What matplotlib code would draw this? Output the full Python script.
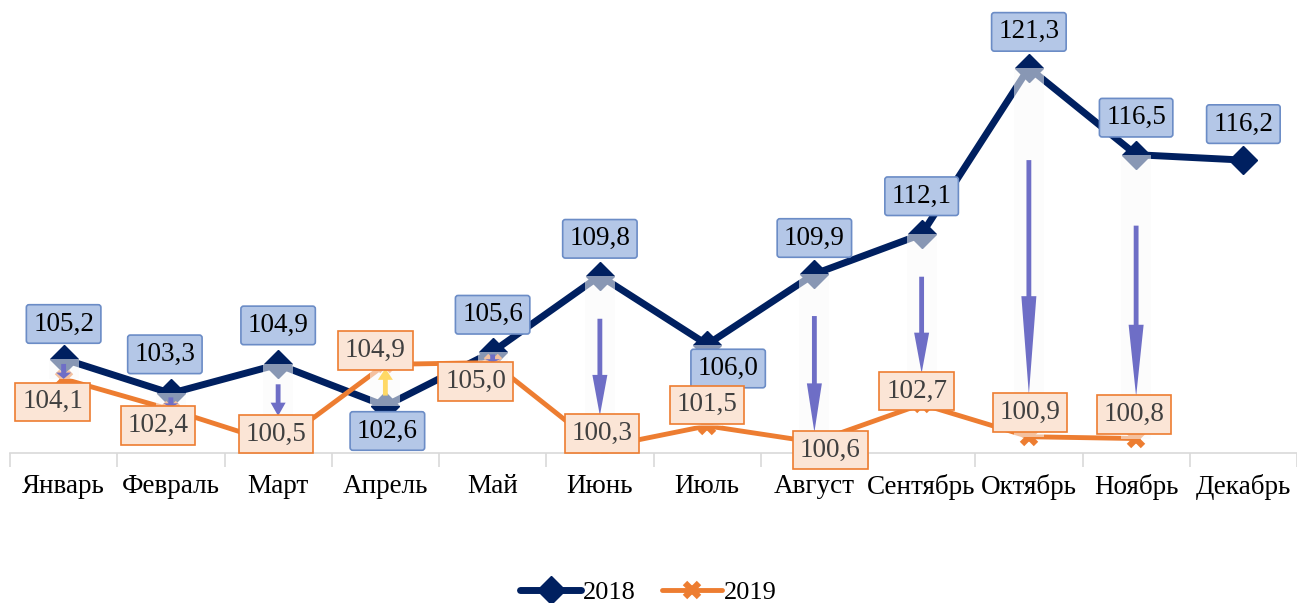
import matplotlib.pyplot as plt
from matplotlib.patches import FancyArrow, Rectangle

plt.rcParams['font.family'] = ['Liberation Serif', 'DejaVu Serif']

months = ['Январь', 'Февраль', 'Март', 'Апрель', 'Май', 'Июнь', 'Июль',
          'Август', 'Сентябрь', 'Октябрь', 'Ноябрь', 'Декабрь']
y2018 = [105.2, 103.3, 104.9, 102.6, 105.6, 109.8, 106.0, 109.9, 112.1, 121.3, 116.5, 116.2]
y2019 = [104.1, 102.4, 100.5, 104.9, 105.0, 100.3, 101.5, 100.6, 102.7, 100.9, 100.8]

# label offsets in pixels (dx, dy up)
off18 = [(0, 35), (-6, 39), (0, 39), (2, -25), (0, 37), (0, 37), (21, -24),
         (0, 36), (0, 38), (0, 36), (0, 37), (0, 36)]
off19 = [(-11, -23), (-13, -16), (-2, 10), (-10, 14), (-17, -19), (2, 14),
         (0, 21), (16, -8), (-5, 13), (1, 24), (-2, 24)]

navy = '#002060'
orange = '#ed7d31'

fig = plt.figure(figsize=(12.97, 6.03), dpi=100)
ax = fig.add_axes([10 / 1297, 150 / 603, 1287 / 1297, 452 / 603])
ymin, ymax = 100, 125
ax.set_xlim(-0.5, 11.5)
ax.set_ylim(ymin, ymax)
px_per = 452 / (ymax - ymin)

x18 = list(range(len(y2018)))
x19 = list(range(len(y2019)))
ax.plot(x18, y2018, color=navy, lw=5, marker='D', ms=14, zorder=2, label='2018',
        solid_joinstyle='round', solid_capstyle='round')
ax.plot(x19, y2019, color=orange, lw=3.5, marker='x', ms=10, mew=4.5, zorder=2, label='2019',
        solid_joinstyle='round', solid_capstyle='round')

# up/down bars and arrows
for i, o in enumerate(y2019):
    b = y2018[i]
    ax.add_patch(Rectangle((i - 0.14, min(b, o)), 0.28, abs(b - o),
                           facecolor='#fafafa', edgecolor='none', alpha=0.55, zorder=3))
    start = b - 0.25 * (b - o)
    if b > o:
        end = o + max(0, off19[i][1] + 18) / px_per
        col = '#6e6ec6'
    else:
        end = o - max(0, 18 - off19[i][1]) / px_per
        col = '#ffd966'
    d = end - start
    if abs(d) > 0.05:
        ax.add_patch(FancyArrow(i, start, 0, d, width=0.045, head_width=0.14,
                                head_length=0.42 * abs(d), length_includes_head=True,
                                color=col, lw=0, zorder=4))

def fmt(v):
    return f'{v:.1f}'.replace('.', ',')

for i, v in enumerate(y2018):
    ax.annotate(fmt(v), (i, v), xytext=off18[i], textcoords='offset pixels',
                ha='center', va='center', fontsize=19.5, color='black', zorder=6,
                bbox=dict(boxstyle='round,pad=0.25,rounding_size=0.1', fc='#b4c7e7',
                          ec='#6b8cc6', lw=1.2))
for i, v in enumerate(y2019):
    ax.annotate(fmt(v), (i, v), xytext=off19[i], textcoords='offset pixels',
                ha='center', va='center', fontsize=19.5, color='#404040', zorder=6,
                bbox=dict(boxstyle='square,pad=0.25', fc='#fbe5d6', ec=orange, lw=1.2))

for s in ['top', 'right', 'left']:
    ax.spines[s].set_visible(False)
ax.spines['bottom'].set_color('#d9d9d9')
ax.spines['bottom'].set_linewidth(1.2)
ax.set_yticks([])
ax.set_xticks(range(12))
ax.set_xticklabels(months, fontsize=19.5)
ax.set_xticks([i - 0.5 for i in range(13)], minor=True)
ax.tick_params(axis='x', which='major', length=0, pad=15)
ax.tick_params(axis='x', which='minor', length=10, color='#d9d9d9', width=1.2)

fig.legend(*ax.get_legend_handles_labels(), loc='center', bbox_to_anchor=(0.5, 1 - 592 / 603),
           ncol=2, frameon=False, fontsize=19, handlelength=2.3, handletextpad=0.05,
           columnspacing=1.0)

fig.savefig('out.png', dpi=100)
